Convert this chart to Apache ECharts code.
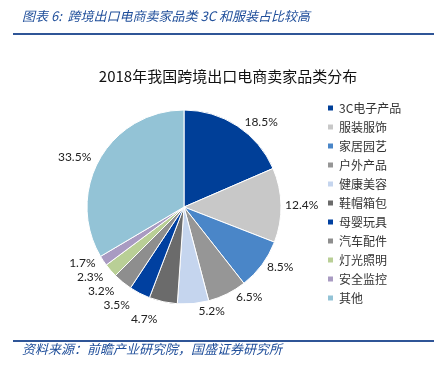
<!DOCTYPE html>
<html>
<head>
<meta charset="utf-8">
<script src="https://cdn.jsdelivr.net/npm/echarts@6/dist/echarts.min.js"></script>
<style>
html, body { margin: 0; padding: 0; background: #fff; }
#chart { width: 434px; height: 368px; }
</style>
</head>
<body>
<div id="chart"></div>
<script>
// 品类与占比
var categories = ['3C电子产品', '服装服饰', '家居园艺', '户外产品', '健康美容', '鞋帽箱包',
                  '母婴玩具', '汽车配件', '灯光照明', '安全监控', '其他'];
var values = [18.5, 12.4, 8.5, 6.5, 5.2, 4.7, 3.5, 3.2, 2.3, 1.7, 33.5];
var colorList = ['#003f98', '#c8c8c8', '#4a86c8', '#969696', '#c5d5ee', '#6b6b6b',
                 '#0040a0', '#8e8e8e', '#b9cf96', '#a99bc2', '#93c3d6'];

var myChart = echarts.init(document.getElementById('chart'));
var seriesData = [];
for (var i = 0; i < categories.length; i++) {
    seriesData.push({ name: categories[i], value: values[i] });
}

var option = {
    color: colorList,
    animation: false,
    title: {
        text: '2018年我国跨境出口电商卖家品类分布',
        left: 223,
        textAlign: 'center',
        top: 64,
        textStyle: { fontFamily: 'Noto Sans CJK SC', fontSize: 15, fontWeight: 'normal', color: '#111' }
    },
    legend: {
        orient: 'vertical',
        left: 321,
        top: 97,
        itemWidth: 7,
        itemHeight: 7,
        itemGap: 7,
        icon: 'rect',
        data: categories,
        textStyle: { fontFamily: 'Noto Sans CJK SC', fontSize: 12, lineHeight: 12, color: '#333' }
    },
    graphic: [
        { type: 'text', left: 22, top: 10,
          style: { text: '图表 6:  跨境出口电商卖家品类 3C 和服装占比较高', fill: '#1f4e9a',
                   font: 'italic 13px "Noto Sans CJK SC"' } },
        { type: 'rect', shape: { x: 13, y: 33, width: 421, height: 2 }, style: { fill: '#2f5597' } },
        { type: 'rect', shape: { x: 13, y: 340, width: 421, height: 2 }, style: { fill: '#2f5597' } },
        { type: 'text', left: 22, top: 343,
          style: { text: '资料来源：前瞻产业研究院，国盛证券研究所', fill: '#1f4e9a',
                   font: 'italic 13px "Noto Sans CJK SC"' } }
    ],
    series: [{
        type: 'pie',
        center: [184, 207],
        radius: 97,
        startAngle: 90,
        data: seriesData,
        itemStyle: { borderColor: '#fff', borderWidth: 1 },
        label: {
            show: true,
            position: 'outside',
            formatter: function (p) { return p.value.toFixed(1) + '%'; },
            fontFamily: 'Lato',
            fontSize: 12,
            color: '#222'
        },
        labelLine: { show: false, length: 4, length2: 0 },
        emphasis: { disabled: true }
    }]
};
myChart.setOption(option);
</script>
</body>
</html>
